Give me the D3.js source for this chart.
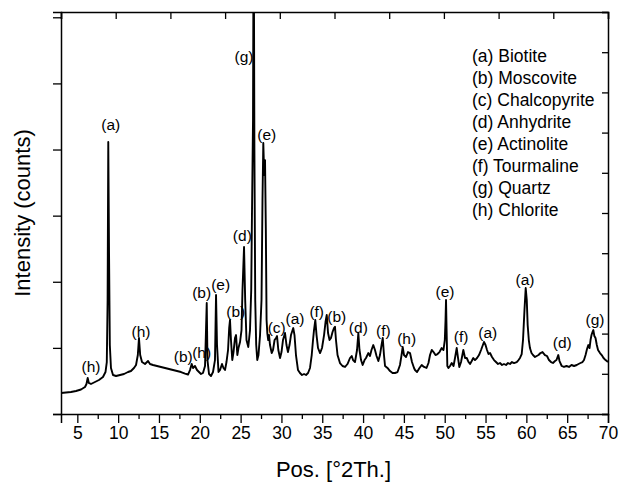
<!DOCTYPE html>
<html>
<head>
<meta charset="utf-8">
<script src="https://cdn.jsdelivr.net/npm/d3@7"></script>
<style>
  html, body { margin: 0; padding: 0; background: #fff; }
  svg { display: block; font-family: "Liberation Sans", Arial, sans-serif; }
</style>
</head>
<body>
<svg id="chart" width="619" height="486"></svg>
<script>
// XRD pattern: diffraction angle (°2θ) and measured intensity (counts)
const twoTheta = [
  3.00, 3.61, 4.22, 4.84, 5.45, 5.94, 6.12, 6.27, 6.41, 6.67, 7.16, 7.65, 8.14, 8.45, 8.61, 8.71, 8.79, 8.88, 8.98, 9.12,
  9.37, 9.74, 10.23, 10.72, 11.21, 11.57, 11.94, 12.19, 12.41, 12.55, 12.70, 12.92, 13.29, 13.66, 13.90, 14.27, 14.76, 15.25, 15.74, 16.23,
  16.72, 17.21, 17.70, 18.19, 18.56, 18.80, 19.01, 19.17, 19.41, 19.66, 19.90, 20.15, 20.39, 20.64, 20.85, 20.94, 21.13, 21.37, 21.62, 21.86,
  21.99, 22.11, 22.29, 22.48, 22.72, 22.90, 23.09, 23.27, 23.46, 23.60, 23.70, 23.82, 23.98, 24.13, 24.31, 24.44, 24.60, 24.74, 24.93, 25.11,
  25.23, 25.42, 25.56, 25.72, 25.94, 26.15, 26.30, 26.39, 26.52, 26.60, 26.69, 26.79, 26.91, 27.04, 27.19, 27.38, 27.56, 27.68, 27.78, 27.89,
  27.99, 28.09, 28.18, 28.27, 28.38, 28.48, 28.60, 28.81, 28.97, 29.16, 29.34, 29.46, 29.62, 29.83, 30.01, 30.19, 30.44, 30.62, 30.80, 30.99,
  31.17, 31.45, 31.60, 31.78, 32.03, 32.27, 32.52, 32.77, 33.01, 33.26, 33.50, 33.71, 33.87, 33.99, 34.15, 34.30, 34.48, 34.73, 34.97, 35.22,
  35.40, 35.55, 35.71, 35.89, 36.07, 36.26, 36.44, 36.56, 36.68, 36.87, 37.17, 37.48, 37.79, 38.09, 38.40, 38.61, 38.77, 39.01, 39.26, 39.42,
  39.56, 39.75, 39.95, 40.18, 40.36, 40.64, 40.85, 41.03, 41.25, 41.46, 41.65, 41.87, 42.07, 42.26, 42.41, 42.56, 42.69, 42.99, 43.30, 43.61,
  43.91, 44.22, 44.52, 44.71, 44.85, 45.01, 45.26, 45.50, 45.75, 45.99, 46.24, 46.36, 46.61, 46.91, 47.18, 47.46, 47.77, 48.01, 48.20, 48.41,
  48.63, 48.87, 49.12, 49.36, 49.63, 49.85, 50.01, 50.10, 50.16, 50.23, 50.32, 50.46, 50.65, 50.86, 51.08, 51.26, 51.47, 51.63, 51.79, 52.00,
  52.28, 52.49, 52.70, 52.92, 53.10, 53.31, 53.50, 53.71, 53.96, 54.20, 54.45, 54.63, 54.81, 55.00, 55.18, 55.36, 55.55, 55.79, 56.04, 56.28,
  56.53, 56.77, 57.02, 57.26, 57.51, 57.75, 58.00, 58.24, 58.49, 58.82, 59.04, 59.22, 59.43, 59.59, 59.77, 59.92, 60.05, 60.16, 60.30, 60.44,
  60.63, 60.81, 61.06, 61.27, 61.49, 61.73, 61.98, 62.28, 62.53, 62.77, 63.02, 63.26, 63.51, 63.69, 63.91, 64.06, 64.33, 64.61, 64.92, 65.22,
  65.53, 65.84, 66.17, 66.39, 66.63, 66.88, 67.06, 67.25, 67.43, 67.59, 67.74, 67.86, 67.98, 68.10, 68.20, 68.33, 68.47, 68.63, 68.78, 69.02,
  69.23, 69.45, 69.70, 70.00
];
const counts = [
  318, 325, 333, 348, 370, 408, 454, 544, 469, 454, 484, 514, 559, 635, 786, 1724, 4113, 2480, 1043, 696,
  590, 575, 590, 605, 635, 650, 696, 741, 892, 1149, 892, 786, 756, 801, 756, 741, 726, 711, 696, 680,
  665, 650, 635, 612, 597, 665, 756, 696, 726, 665, 635, 605, 620, 726, 1678, 816, 605, 575, 635, 816,
  1799, 1043, 635, 665, 756, 696, 665, 786, 968, 1300, 1421, 1119, 816, 937, 1149, 1194, 892, 998, 1089, 1270,
  1875, 2525, 1724, 1119, 1013, 1270, 1875, 3009, 4445, 7800, 3992, 1724, 1043, 816, 892, 1194, 1724, 3236, 4098, 3614,
  3840, 2782, 1421, 1225, 1119, 1194, 1043, 922, 968, 1119, 1149, 1179, 968, 847, 937, 1119, 1225, 1043, 937, 1043,
  1194, 1300, 1194, 892, 665, 620, 590, 605, 590, 620, 696, 892, 1119, 1270, 1421, 1194, 998, 922, 998, 1194,
  1391, 1497, 1225, 1119, 1149, 1240, 1300, 1320, 1119, 892, 771, 726, 711, 756, 847, 877, 816, 786, 968, 1225,
  968, 816, 741, 816, 847, 922, 877, 968, 1043, 968, 877, 801, 892, 1043, 1149, 892, 726, 696, 650, 620,
  620, 635, 741, 892, 1013, 892, 862, 937, 922, 786, 696, 665, 635, 696, 741, 711, 696, 771, 892, 968,
  937, 892, 907, 937, 998, 968, 1119, 1421, 1724, 1270, 726, 696, 726, 771, 726, 847, 998, 847, 711, 786,
  968, 847, 847, 786, 756, 801, 847, 816, 847, 892, 968, 1028, 1089, 1043, 968, 907, 922, 862, 816, 786,
  756, 771, 741, 756, 741, 771, 756, 786, 771, 786, 816, 847, 907, 1119, 1572, 1905, 1724, 1346, 1119, 998,
  922, 892, 862, 877, 892, 922, 937, 892, 877, 816, 786, 771, 801, 816, 892, 801, 726, 711, 726, 711,
  741, 726, 741, 756, 771, 786, 816, 892, 983, 1043, 998, 1119, 1194, 1240, 1270, 1179, 1149, 1043, 968, 922,
  892, 847, 816, 786
];

// Phase identification labels placed over the reflections
const peakLetters = ["h", "a", "h", "b", "h", "b", "e", "b", "d", "g", "e", "c", "a", "f", "b", "d", "f", "h", "e", "f", "a", "a", "d", "g"];
const peakTheta   = [6.67, 9.09, 12.80, 17.98, 20.23, 20.23, 22.56, 24.40, 25.21, 25.42, 28.20, 29.42, 31.66, 34.32, 36.77, 39.42, 42.48, 45.34, 50.04, 52.00, 55.27, 59.84, 64.40, 68.41];
const peakCounts  = [715, 4370, 1240, 866, 922, 1825, 1950, 1547, 2691, 5398, 4218, 1300, 1436, 1542, 1467, 1305, 1259, 1134, 1849, 1169, 1220, 2026, 1078, 1421];

// Mineral key
const phaseLetters = ["a", "b", "c", "d", "e", "f", "g", "h"];
const phaseNames = ["Biotite", "Moscovite", "Chalcopyrite", "Anhydrite", "Actinolite", "Tourmaline", "Quartz", "Chlorite"];

// Axis ticks
const xTicks = [5, 10, 15, 20, 25, 30, 35, 40, 45, 50, 55, 60, 65, 70];
const xMinorTicks = [7.5, 12.5, 17.5, 22.5, 27.5, 32.5, 37.5, 42.5, 47.5, 52.5, 57.5, 62.5, 67.5];
const yTicks = [0, 1000, 2000, 3000, 4000, 5000, 6000];

const svg = d3.select("#chart");
const plot = { left: 61, right: 608, top: 12, bottom: 414 };

const x = d3.scaleLinear().domain([3, 70]).range([plot.left, plot.right]);
const y = d3.scaleLinear().domain([0, 6080]).range([plot.bottom, plot.top]);
// ten equal divisions used for the inner ticks on the top and right frame
const divX = d3.scaleLinear().domain([0, 10]).range([plot.left, plot.right]);
const divY = d3.scaleLinear().domain([0, 10]).range([plot.bottom, plot.top]);

svg.append("defs").append("clipPath").attr("id", "plot-clip")
  .append("rect").attr("x", plot.left).attr("y", plot.top)
  .attr("width", plot.right - plot.left).attr("height", plot.bottom - plot.top);

// bottom axis: labelled major ticks and short minor ticks
const xAxis = svg.append("g").attr("transform", `translate(0,${plot.bottom})`)
  .call(d3.axisBottom(x).tickValues(xTicks).tickSize(9).tickPadding(4).tickFormat(d3.format("d")));
svg.append("g").attr("transform", `translate(0,${plot.bottom})`)
  .call(d3.axisBottom(x).tickValues(xMinorTicks).tickSize(5).tickFormat(""))
  .call(g => g.select(".domain").remove());

// left axis: ticks without labels
svg.append("g").attr("transform", `translate(${plot.left},0)`)
  .call(d3.axisLeft(y).tickValues(yTicks).tickSize(8).tickFormat(""));

// top and right frame with inward ticks
svg.append("g").attr("transform", `translate(0,${plot.top})`)
  .call(d3.axisTop(divX).ticks(10).tickSize(-7).tickFormat(""));
svg.append("g").attr("transform", `translate(${plot.right},0)`)
  .call(d3.axisRight(divY).ticks(10).tickSize(-6).tickFormat(""));

svg.selectAll(".domain").attr("stroke", "#000").attr("stroke-width", 1.5);
svg.selectAll(".tick line").attr("stroke", "#000").attr("stroke-width", 1.3);
xAxis.selectAll(".tick text").attr("font-size", 17.5).attr("fill", "#000")
  .attr("font-family", "'Liberation Sans', Arial, sans-serif");

// axis titles
svg.append("text")
  .attr("x", (plot.left + plot.right) / 2 - 1).attr("y", 477)
  .attr("text-anchor", "middle").attr("font-size", 22).attr("fill", "#000")
  .text("Pos. [°2Th.]");
svg.append("text")
  .attr("transform", `translate(30,${(plot.top + plot.bottom) / 2}) rotate(-90)`)
  .attr("text-anchor", "middle").attr("font-size", 22).attr("fill", "#000")
  .text("Intensity (counts)");

// peak labels
svg.append("g").selectAll("text")
  .data(peakLetters.map((l, i) => ({ l, t: peakTheta[i], c: peakCounts[i] })))
  .join("text")
  .attr("x", d => x(d.t)).attr("y", d => y(d.c)).attr("dy", "0.33em")
  .attr("text-anchor", "middle").attr("font-size", 15.5).attr("fill", "#000")
  .text(d => `(${d.l})`);

// diffraction pattern
const line = d3.line().x((d, i) => x(twoTheta[i])).y(d => y(d));
svg.append("path")
  .attr("clip-path", "url(#plot-clip)")
  .attr("d", line(counts))
  .attr("fill", "none").attr("stroke", "#000").attr("stroke-width", 1.9)
  .attr("stroke-linejoin", "round");

// mineral key
const key = svg.append("g").attr("font-size", 17.5).attr("fill", "#000");
key.selectAll("text").data(phaseLetters).join("text")
  .attr("x", 472).attr("y", (d, i) => 56 + i * 22).attr("dy", "0.35em")
  .text((d, i) => `(${d}) ${phaseNames[i]}`);
</script>
</body>
</html>
